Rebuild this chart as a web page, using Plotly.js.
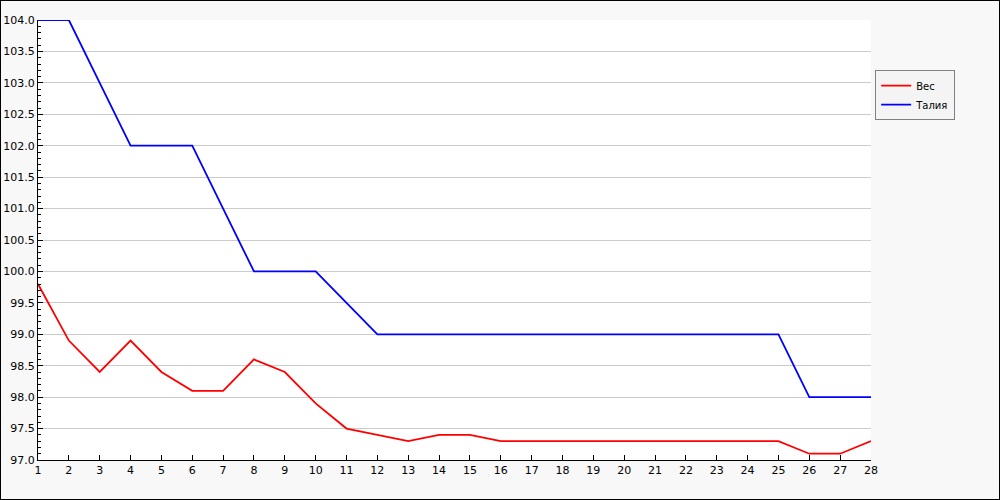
<!DOCTYPE html>
<html><head><meta charset="utf-8">
<script src="https://cdn.plot.ly/plotly-3.0.1.min.js"></script>
<style>html,body{margin:0;padding:0;background:#fff}#c{width:998px;height:498px;border:1px solid #000}</style>
</head><body><div id="c"></div>
<script>
const days = [1,2,3,4,5,6,7,8,9,10,11,12,13,14,15,16,17,18,19,20,21,22,23,24,25,26,27,28];
const weight = [99.8,98.9,98.4,98.9,98.4,98.1,98.1,98.6,98.4,97.9,97.5,97.4,97.3,97.4,97.4,97.3,97.3,97.3,97.3,97.3,97.3,97.3,97.3,97.3,97.3,97.1,97.1,97.3];
const waist = [104,104,103,102,102,102,101,100,100,100,99.5,99,99,99,99,99,99,99,99,99,99,99,99,99,99,98,98,98];
const names = ['Вес','Талия'];

const traces = [
  {x: days, y: weight, name: names[0], type:'scatter', mode:'lines', line:{color:'#ff0000', width:1.8}},
  {x: days, y: waist, name: names[1], type:'scatter', mode:'lines', line:{color:'#0000ff', width:1.8}}
];
const layout = {
  width: 998, height: 498,
  margin: {l:37, r:128, t:19, b:39, pad:0},
  paper_bgcolor: '#f8f8f8', plot_bgcolor: '#ffffff',
  font: {family: 'DejaVu Sans, sans-serif', size: 11, color: '#000'},
  showlegend: true,
  legend: {x: 1.005, y: 0.886, xanchor:'left', yanchor:'top', bgcolor:'#f4f4f4', bordercolor:'#808080', borderwidth:1, font:{size:10}, tracegroupgap:0, itemwidth:30},
  xaxis: {range:[1,28], tickmode:'linear', tick0:1, dtick:1, showgrid:false, zeroline:false,
    showline:true, linecolor:'#000', linewidth:1, ticks:'inside', ticklen:5, tickcolor:'#000'},
  yaxis: {range:[97,104], tickmode:'linear', tick0:97, dtick:0.5, tickformat:'.1f', showgrid:true, gridcolor:'#cccccc', gridwidth:1, zeroline:false,
    showline:true, linecolor:'#000', linewidth:1, ticks:'inside', ticklen:5, tickcolor:'#000',
    minor:{dtick:0.1, tick0:97, ticks:'inside', ticklen:3, tickcolor:'#000', showgrid:false}}
};
Plotly.newPlot('c', traces, layout, {displayModeBar:false, staticPlot:true});
</script></body></html>
